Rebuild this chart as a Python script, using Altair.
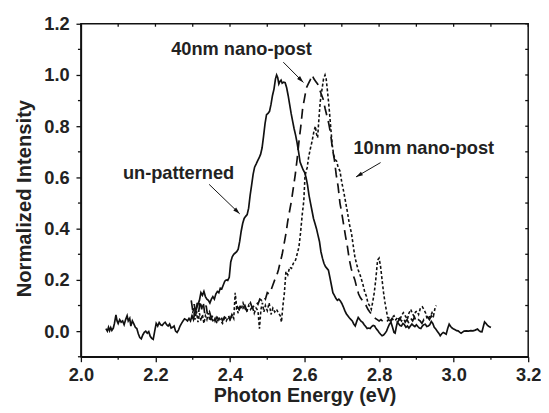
import altair as alt
import pandas as pd

# ---------------- data ----------------
unpatterned = [
    (2.067, 0.010), (2.071, 0.000), (2.074, 0.015), (2.077, 0.002), (2.080, 0.014), (2.083, 0.003),
    (2.087, 0.012), (2.090, 0.030), (2.094, 0.063), (2.097, 0.040), (2.100, 0.030), (2.104, 0.045),
    (2.108, 0.035), (2.112, 0.040), (2.116, 0.025), (2.120, 0.045), (2.124, 0.060), (2.127, 0.040),
    (2.131, 0.050), (2.134, 0.020), (2.138, 0.040), (2.142, 0.028), (2.146, 0.015), (2.150, 0.010),
    (2.154, -0.010), (2.158, -0.025), (2.162, -0.030), (2.166, -0.015), (2.170, -0.005), (2.174, 0.000),
    (2.178, -0.008), (2.182, -0.002), (2.186, -0.020), (2.190, -0.028), (2.194, -0.032), (2.198, 0.000),
    (2.202, 0.030), (2.206, 0.020), (2.210, 0.034), (2.214, 0.025), (2.218, 0.022), (2.222, 0.030),
    (2.226, 0.035), (2.230, 0.025), (2.234, 0.020), (2.238, 0.028), (2.242, 0.012), (2.246, 0.015),
    (2.250, 0.020), (2.254, 0.000), (2.258, -0.005), (2.262, 0.005), (2.266, 0.020), (2.270, 0.030),
    (2.274, 0.040), (2.278, 0.048), (2.282, 0.045), (2.286, 0.040), (2.290, 0.050), (2.294, 0.040),
    (2.298, 0.060), (2.302, 0.045), (2.306, 0.075), (2.310, 0.090), (2.314, 0.105), (2.318, 0.120),
    (2.322, 0.150), (2.326, 0.140), (2.330, 0.155), (2.334, 0.135), (2.338, 0.125), (2.342, 0.120),
    (2.346, 0.110), (2.350, 0.125), (2.354, 0.135), (2.358, 0.125), (2.362, 0.145), (2.366, 0.155),
    (2.370, 0.150), (2.374, 0.168), (2.378, 0.165), (2.382, 0.180), (2.386, 0.195), (2.390, 0.200),
    (2.394, 0.198), (2.398, 0.210), (2.402, 0.270), (2.406, 0.290), (2.410, 0.300), (2.414, 0.305),
    (2.418, 0.310), (2.422, 0.320), (2.426, 0.350), (2.430, 0.390), (2.434, 0.420), (2.438, 0.440),
    (2.442, 0.448), (2.446, 0.455), (2.450, 0.480), (2.454, 0.530), (2.458, 0.570), (2.462, 0.612),
    (2.466, 0.640), (2.470, 0.652), (2.474, 0.665), (2.478, 0.676), (2.482, 0.690), (2.486, 0.715),
    (2.490, 0.760), (2.494, 0.810), (2.498, 0.845), (2.502, 0.850), (2.506, 0.858), (2.510, 0.885),
    (2.514, 0.920), (2.518, 0.945), (2.522, 0.985), (2.525, 1.000), (2.528, 0.990), (2.531, 0.965),
    (2.534, 0.975), (2.537, 0.980), (2.540, 0.968), (2.544, 0.972), (2.548, 0.970), (2.552, 0.950),
    (2.556, 0.920), (2.560, 0.885), (2.564, 0.850), (2.568, 0.820), (2.572, 0.790), (2.576, 0.765),
    (2.580, 0.735), (2.584, 0.700), (2.588, 0.660), (2.592, 0.645), (2.596, 0.630), (2.600, 0.620),
    (2.604, 0.600), (2.608, 0.570), (2.612, 0.530), (2.616, 0.500), (2.620, 0.470), (2.624, 0.440),
    (2.628, 0.420), (2.632, 0.400), (2.636, 0.375), (2.640, 0.350), (2.644, 0.310), (2.648, 0.285),
    (2.652, 0.265), (2.656, 0.252), (2.660, 0.245), (2.664, 0.238), (2.668, 0.210), (2.672, 0.180),
    (2.676, 0.150), (2.680, 0.140), (2.684, 0.128), (2.688, 0.120), (2.692, 0.125), (2.696, 0.118),
    (2.700, 0.108), (2.704, 0.095), (2.708, 0.080), (2.712, 0.068), (2.716, 0.060), (2.720, 0.052),
    (2.724, 0.046), (2.728, 0.040), (2.732, 0.028), (2.736, 0.020), (2.740, 0.038), (2.744, 0.053),
    (2.748, 0.045), (2.752, 0.038), (2.756, 0.034), (2.760, 0.025), (2.764, 0.018), (2.768, 0.010),
    (2.772, 0.012), (2.776, 0.010), (2.780, 0.018), (2.784, 0.022), (2.788, 0.020), (2.792, 0.010),
    (2.796, 0.003), (2.800, -0.005), (2.804, -0.012), (2.808, -0.018), (2.812, -0.015), (2.816, -0.008),
    (2.820, 0.000), (2.824, 0.015), (2.828, 0.028), (2.832, 0.034), (2.836, 0.015), (2.840, -0.005),
    (2.843, -0.008), (2.846, 0.015), (2.849, 0.034), (2.852, 0.030), (2.856, 0.022), (2.860, 0.020),
    (2.864, 0.030), (2.868, 0.025), (2.872, 0.015), (2.876, 0.020), (2.880, 0.012), (2.884, 0.020),
    (2.888, 0.028), (2.892, 0.022), (2.896, 0.018), (2.900, 0.025), (2.904, 0.018), (2.908, 0.012),
    (2.912, 0.010), (2.916, 0.020), (2.920, 0.025), (2.924, 0.027), (2.928, 0.018), (2.932, 0.020),
    (2.936, 0.025), (2.940, 0.038), (2.944, 0.030), (2.948, 0.015), (2.952, 0.008), (2.956, 0.000),
    (2.960, -0.008), (2.964, -0.018), (2.968, -0.010), (2.972, -0.005), (2.976, -0.008), (2.980, -0.012),
    (2.984, 0.010), (2.988, 0.027), (2.992, 0.018), (2.996, 0.012), (3.000, 0.008), (3.004, 0.005),
    (3.008, 0.002), (3.012, 0.001), (3.016, -0.004), (3.020, -0.008), (3.024, -0.004), (3.028, 0.000),
    (3.034, 0.001), (3.040, 0.000), (3.046, 0.002), (3.052, 0.001), (3.058, 0.004), (3.064, 0.008),
    (3.068, 0.002), (3.072, -0.002), (3.076, -0.003), (3.080, 0.020), (3.083, 0.036), (3.087, 0.030),
    (3.091, 0.022), (3.095, 0.018), (3.100, 0.014),
]

post40 = [
    (2.296, 0.120), (2.300, 0.080), (2.304, 0.105), (2.308, 0.065), (2.312, 0.110), (2.316, 0.075),
    (2.320, 0.120), (2.324, 0.085), (2.328, 0.115), (2.332, 0.070), (2.336, 0.100), (2.340, 0.060),
    (2.345, 0.075), (2.350, 0.050), (2.355, 0.065), (2.360, 0.040), (2.365, 0.055), (2.370, 0.045),
    (2.375, 0.060), (2.380, 0.040), (2.385, 0.055), (2.390, 0.050), (2.395, 0.065), (2.400, 0.045),
    (2.405, 0.060), (2.410, 0.070), (2.415, 0.080), (2.420, 0.095), (2.425, 0.085), (2.430, 0.105),
    (2.435, 0.090), (2.440, 0.100), (2.445, 0.080), (2.450, 0.095), (2.455, 0.110), (2.460, 0.090),
    (2.465, 0.100), (2.470, 0.115), (2.475, 0.105), (2.480, 0.125), (2.485, 0.120), (2.490, 0.135),
    (2.495, 0.125), (2.500, 0.150), (2.505, 0.145), (2.510, 0.160), (2.515, 0.180), (2.520, 0.200),
    (2.525, 0.215), (2.530, 0.240), (2.535, 0.270), (2.540, 0.300), (2.545, 0.340), (2.550, 0.380),
    (2.555, 0.430), (2.560, 0.470), (2.565, 0.510), (2.570, 0.560), (2.575, 0.610), (2.580, 0.670),
    (2.585, 0.740), (2.590, 0.800), (2.595, 0.870), (2.600, 0.910), (2.605, 0.950), (2.610, 0.965),
    (2.615, 0.980), (2.620, 1.000), (2.625, 0.985), (2.630, 0.975), (2.635, 0.965), (2.640, 0.945),
    (2.645, 0.925), (2.650, 0.905), (2.655, 0.870), (2.660, 0.840), (2.665, 0.810), (2.670, 0.770),
    (2.675, 0.710), (2.680, 0.670), (2.685, 0.610), (2.690, 0.565), (2.695, 0.500), (2.700, 0.460),
    (2.705, 0.415), (2.710, 0.370), (2.715, 0.330), (2.720, 0.280), (2.725, 0.245), (2.730, 0.220),
    (2.735, 0.200), (2.740, 0.170), (2.745, 0.145), (2.750, 0.130), (2.755, 0.120), (2.760, 0.110),
    (2.765, 0.100), (2.770, 0.085), (2.775, 0.075), (2.780, 0.066), (2.785, 0.060), (2.790, 0.050),
    (2.795, 0.045), (2.800, 0.040), (2.805, 0.045), (2.810, 0.038), (2.815, 0.042), (2.820, 0.035),
    (2.825, 0.045), (2.830, 0.040), (2.835, 0.050), (2.840, 0.038), (2.845, 0.045), (2.850, 0.035),
    (2.855, 0.050), (2.860, 0.040), (2.865, 0.055), (2.870, 0.035), (2.875, 0.045), (2.880, 0.030),
    (2.885, 0.050), (2.890, 0.040), (2.895, 0.055), (2.900, 0.035), (2.905, 0.045), (2.910, 0.040),
    (2.915, 0.030), (2.920, 0.045), (2.925, 0.040), (2.930, 0.055), (2.935, 0.045), (2.940, 0.060),
    (2.945, 0.050), (2.950, 0.065),
]

post10 = [
    (2.298, 0.050), (2.302, 0.090), (2.306, 0.045), (2.310, 0.080), (2.314, 0.035), (2.318, 0.070),
    (2.322, 0.040), (2.326, 0.065), (2.330, 0.030), (2.334, 0.060), (2.338, 0.045), (2.342, 0.070),
    (2.346, 0.040), (2.350, 0.055), (2.355, 0.035), (2.360, 0.050), (2.365, 0.030), (2.370, 0.055),
    (2.375, 0.040), (2.380, 0.030), (2.385, 0.050), (2.390, 0.040), (2.395, 0.055), (2.400, 0.045),
    (2.405, 0.065), (2.410, 0.050), (2.414, 0.150), (2.418, 0.090), (2.422, 0.070), (2.426, 0.100),
    (2.430, 0.085), (2.435, 0.110), (2.440, 0.090), (2.445, 0.075), (2.450, 0.100), (2.455, 0.085),
    (2.460, 0.095), (2.465, 0.070), (2.470, 0.090), (2.475, 0.080), (2.479, 0.010), (2.483, 0.085),
    (2.487, 0.110), (2.491, 0.075), (2.495, 0.100), (2.500, 0.080), (2.505, 0.110), (2.510, 0.065),
    (2.515, 0.090), (2.520, 0.075), (2.525, 0.085), (2.530, 0.070), (2.535, 0.060), (2.538, 0.035),
    (2.542, 0.100), (2.546, 0.150), (2.550, 0.233), (2.555, 0.220), (2.560, 0.250), (2.565, 0.245),
    (2.570, 0.265), (2.576, 0.278), (2.580, 0.300), (2.585, 0.329), (2.589, 0.381), (2.594, 0.458),
    (2.598, 0.509), (2.601, 0.600), (2.604, 0.625), (2.607, 0.638), (2.611, 0.680), (2.616, 0.715),
    (2.620, 0.740), (2.625, 0.779), (2.629, 0.800), (2.632, 0.770), (2.635, 0.755), (2.638, 0.818),
    (2.642, 0.895), (2.647, 0.946), (2.651, 0.985), (2.655, 1.000), (2.658, 0.985), (2.662, 0.930),
    (2.666, 0.870), (2.670, 0.800), (2.674, 0.730), (2.678, 0.689), (2.682, 0.670), (2.686, 0.664),
    (2.690, 0.640), (2.695, 0.625), (2.700, 0.580), (2.705, 0.545), (2.710, 0.505), (2.715, 0.465),
    (2.720, 0.420), (2.726, 0.381), (2.731, 0.330), (2.735, 0.290), (2.740, 0.260), (2.744, 0.239),
    (2.750, 0.215), (2.757, 0.180), (2.762, 0.150), (2.766, 0.136), (2.770, 0.110), (2.775, 0.098),
    (2.779, 0.085), (2.783, 0.115), (2.787, 0.150), (2.791, 0.200), (2.796, 0.278), (2.800, 0.285),
    (2.804, 0.252), (2.808, 0.200), (2.812, 0.150), (2.816, 0.110), (2.819, 0.085), (2.823, 0.053),
    (2.828, 0.050), (2.832, 0.040), (2.836, 0.055), (2.840, 0.060), (2.845, 0.045), (2.850, 0.055),
    (2.855, 0.040), (2.860, 0.060), (2.865, 0.072), (2.870, 0.060), (2.876, 0.046), (2.880, 0.070),
    (2.885, 0.085), (2.889, 0.070), (2.893, 0.059), (2.898, 0.075), (2.902, 0.078), (2.906, 0.065),
    (2.911, 0.091), (2.916, 0.095), (2.920, 0.085), (2.925, 0.070), (2.929, 0.046), (2.934, 0.055),
    (2.938, 0.059), (2.942, 0.072), (2.946, 0.060), (2.950, 0.090), (2.953, 0.100),
]

x_major = [2.0, 2.2, 2.4, 2.6, 2.8, 3.0, 3.2]
x_minor = [2.1, 2.3, 2.5, 2.7, 2.9, 3.1]
y_major = [0.0, 0.2, 0.4, 0.6, 0.8, 1.0, 1.2]
y_minor = [-0.1, 0.1, 0.3, 0.5, 0.7, 0.9, 1.1]

label_text = ["40nm nano-post", "10nm nano-post", "un-patterned"]
label_x = [2.431, 2.920, 2.262]
label_y = [1.102, 0.715, 0.617]
arrow_x1 = [2.543, 2.804, 2.344]
arrow_y1 = [1.050, 0.658, 0.573]
arrow_x2 = [2.597, 2.738, 2.426]
arrow_y2 = [0.971, 0.602, 0.458]
arrow_angle = [135, 240, 134]

# ---------------- chart ----------------
W, H = 454, 338
FONT = "Liberation Sans"
INK = "#111111"
TXT = "#222222"

xs = alt.Scale(domain=[2.0, 3.2], nice=False, zero=False)
ys = alt.Scale(domain=[-0.1, 1.2], nice=False, zero=False)

axis_style = dict(
    format=".1f", grid=False, tickSize=5, tickColor=INK, tickWidth=1.3,
    domainColor=INK, domainWidth=1.5, labelFlush=False, labelOverlap=False,
    labelFont=FONT, labelFontSize=18.5, labelFontWeight="bold", labelColor=TXT,
    titleFont=FONT, titleFontWeight="bold", titleColor=TXT,
)
x_axis = alt.Axis(values=x_major, title="Photon Energy (eV)", labelPadding=4,
                  titlePadding=2, titleFontSize=20, **axis_style)
y_axis = alt.Axis(values=y_major, title="Normalized Intensity", labelPadding=7,
                  titlePadding=9, titleFontSize=20.5, titleY=177, **axis_style)


def X(field):
    return alt.X(field, scale=xs, axis=x_axis)


def Y(field):
    return alt.Y(field, scale=ys, axis=y_axis)


def series_df(pairs):
    return pd.DataFrame(pairs, columns=["E", "I"])


line_un = alt.Chart(series_df(unpatterned)).mark_line(color=INK, strokeWidth=1.7).encode(
    x=X("E:Q"), y=Y("I:Q"))
line_40 = alt.Chart(series_df(post40)).mark_line(
    color=INK, strokeWidth=1.7, strokeDash=[10, 6]).encode(x=X("E:Q"), y=Y("I:Q"))
line_10 = alt.Chart(series_df(post10)).mark_line(
    color=INK, strokeWidth=1.6, strokeDash=[3, 2.2]).encode(x=X("E:Q"), y=Y("I:Q"))

# minor ticks (outward) on bottom/left
bx_minor = alt.Chart(pd.DataFrame({"E": x_minor})).mark_rule(color=INK, strokeWidth=1.3).encode(
    x=X("E:Q"), y=alt.value(H), y2=alt.value(H + 3))
ly_minor = alt.Chart(pd.DataFrame({"I": y_minor})).mark_rule(color=INK, strokeWidth=1.3).encode(
    y=Y("I:Q"), x=alt.value(0), x2=alt.value(-3))
# inward ticks on top/right (mirror)
top_ticks = alt.Chart(pd.DataFrame({"E": x_major + x_minor})).mark_rule(color=INK, strokeWidth=1.3).encode(
    x=X("E:Q"), y=alt.value(0), y2=alt.value(3))
right_ticks = alt.Chart(pd.DataFrame({"I": y_major + y_minor})).mark_rule(color=INK, strokeWidth=1.3).encode(
    y=Y("I:Q"), x=alt.value(W), x2=alt.value(W - 3))

ann = pd.DataFrame({
    "text": label_text, "E": label_x, "I": label_y,
    "E1": arrow_x1, "I1": arrow_y1, "E2": arrow_x2, "I2": arrow_y2, "ang": arrow_angle,
})
labels = alt.Chart(ann).mark_text(
    font=FONT, fontSize=18.5, fontWeight="bold", color=TXT,
    align="center", baseline="middle").encode(x=X("E:Q"), y=Y("I:Q"), text="text:N")
arrows = alt.Chart(ann).mark_rule(color=INK, strokeWidth=1).encode(
    x=X("E1:Q"), y=Y("I1:Q"), x2="E2:Q", y2="I2:Q")
heads = alt.Chart(ann).mark_point(
    shape="M0,0L0.6,2L-0.6,2Z", filled=True, size=49, color=INK, opacity=1, strokeWidth=0).encode(
    x=X("E2:Q"), y=Y("I2:Q"), angle=alt.Angle("ang:Q", scale=None))

chart = alt.layer(
    line_un, line_40, line_10, bx_minor, ly_minor, top_ticks, right_ticks, arrows, heads, labels
).properties(
    width=W, height=H,
    padding={"left": 74, "top": 13, "right": 13, "bottom": 47},
    autosize=alt.AutoSizeParams(type="none"),
).configure_view(
    stroke=INK, strokeWidth=1.5
)

chart.save("out.html", embed_options={"renderer": "svg", "actions": False})
